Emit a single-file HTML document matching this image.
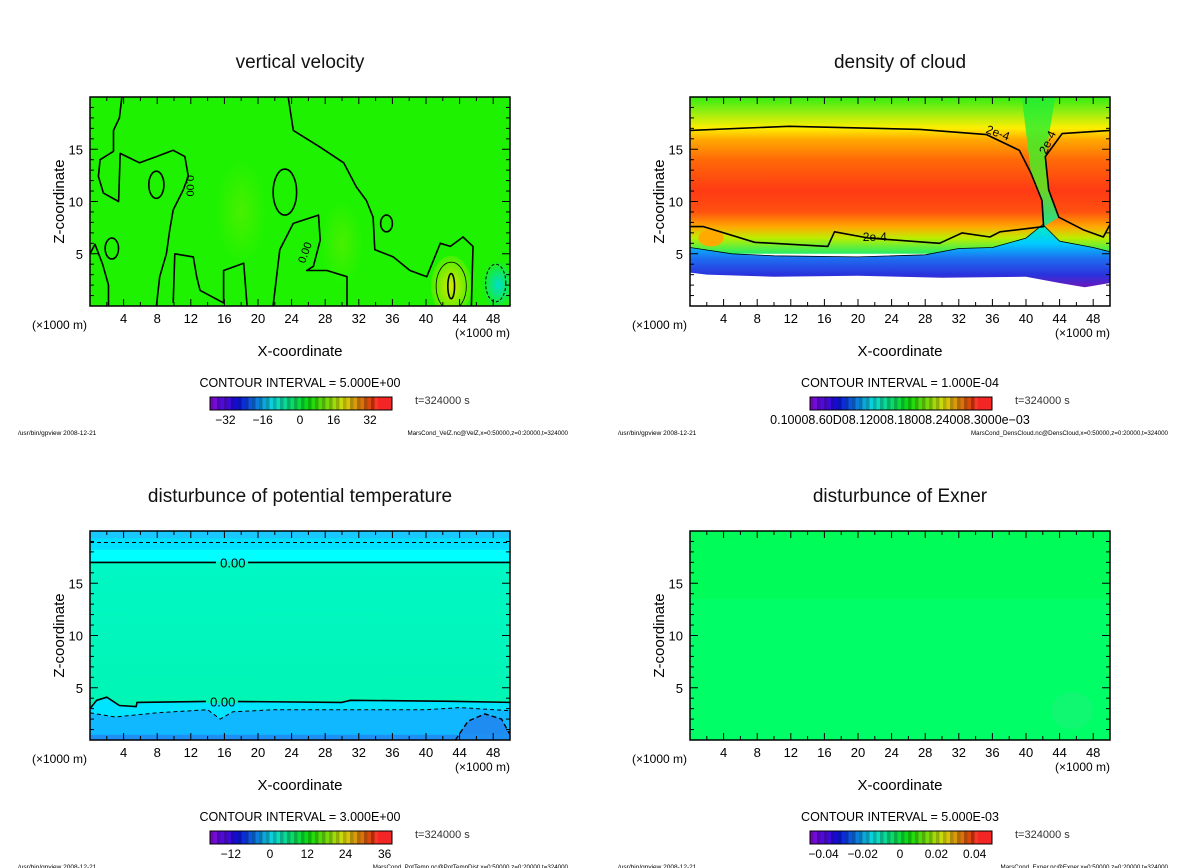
<!DOCTYPE html>
<html><head><meta charset="utf-8"><style>
body{margin:0;background:#fff}
svg{display:block;font-family:"Liberation Sans",sans-serif}
</style></head><body>
<svg id="s" width="1200" height="868" viewBox="0 0 1200 868" xmlns="http://www.w3.org/2000/svg">
<defs>
<linearGradient id="gCloud" x1="0" y1="0" x2="0" y2="1">
<stop offset="0" stop-color="#33ee11"/><stop offset="0.1" stop-color="#99ee11"/><stop offset="0.2" stop-color="#ffee00"/>
<stop offset="0.27" stop-color="#ffaa00"/><stop offset="0.4" stop-color="#ff6a08"/><stop offset="0.6" stop-color="#ff3a14"/>
<stop offset="0.73" stop-color="#ff5010"/><stop offset="0.83" stop-color="#ffaa00"/><stop offset="0.9" stop-color="#bbee00"/><stop offset="1" stop-color="#22ee66"/>
</linearGradient>
<linearGradient id="gBand" x1="0" y1="0" x2="0" y2="1">
<stop offset="0" stop-color="#00eebb"/><stop offset="0.3" stop-color="#00ccff"/><stop offset="0.55" stop-color="#1e6cf0"/><stop offset="0.8" stop-color="#2a33dd"/><stop offset="1" stop-color="#6a18bb"/>
</linearGradient>
<linearGradient id="gPlume" x1="0" y1="0" x2="0" y2="1">
<stop offset="0" stop-color="#22ee33"/><stop offset="0.7" stop-color="#55ee22"/><stop offset="1" stop-color="#00eeaa"/>
</linearGradient>
<linearGradient id="gTheta" x1="0" y1="0" x2="0" y2="1">
<stop offset="0" stop-color="#00f8c8"/><stop offset="1" stop-color="#00f5b0"/>
</linearGradient>
<radialGradient id="gYel"><stop offset="0" stop-color="#d8e800"/><stop offset="1" stop-color="#44f000"/></radialGradient>
<radialGradient id="gCyan"><stop offset="0" stop-color="#00ddcc"/><stop offset="1" stop-color="#1ef200"/></radialGradient>
<radialGradient id="gSoft"><stop offset="0" stop-color="#48f000"/><stop offset="1" stop-color="#1ef200"/></radialGradient>
</defs>
<g id="root"></g>
</svg>
<script>
// ---- data (x in km, z in km) ----
const xTicks=[4,8,12,16,20,24,28,32,36,40,44,48];
const zTicks=[5,10,15];
const titles=["vertical velocity","density of cloud","disturbunce of potential temperature","disturbunce of Exner"];
const intervals=["5.000E+00","1.000E-04","3.000E+00","5.000E-03"];
const files=["MarsCond_VelZ.nc@VelZ,x=0:50000,z=0:20000,t=324000","MarsCond_DensCloud.nc@DensCloud,x=0:50000,z=0:20000,t=324000","MarsCond_PotTemp.nc@PotTempDist,x=0:50000,z=0:20000,t=324000","MarsCond_Exner.nc@Exner,x=0:50000,z=0:20000,t=324000"];
const cbLabels=[["-32","-16","0","16","32"],["0.10008.60D08.12008.18008.24008.3000e−03"],["-12","0","12","24","36"],["-0.04","-0.02","0","0.02","0.04"]];
const cbLabelPos=[[-0.82,-0.41,0,0.37,0.77],[0],[-0.76,-0.33,0.08,0.50,0.93],[-0.84,-0.41,0,0.40,0.82]];
// vertical velocity zero contours
const wLineA=[[3.8,20],[3.5,18],[2.8,16.8],[2.8,14.8],[1.2,14],[1.0,12.4],[1.6,10.8],[3.4,10],[3.6,14.6],[5.9,13.7],[7.9,14.3],[9.9,14.9],[11.3,14.3],[11.7,12.4],[11.1,11.1],[9.9,9.2],[9.5,7.3],[9.1,5],[8.3,2.8],[7.9,0]];
const wLineB=[[23.6,20],[24.2,16.8],[27.4,15.2],[30.2,13.7],[31.7,11.4],[32.9,10.1],[33.7,8.5],[33.9,5.4],[36.1,4.7],[38.1,3.4],[40.1,2.8],[41.7,6],[42.9,5.7],[44.4,6.6],[45.6,5.7],[45.4,0]];
const wLineG=[[9.9,0.3],[10.1,5],[12.3,4.7],[12.7,2.8],[13.1,1.5],[15.9,0.3],[15.9,3.4],[18.3,4.1],[18.7,0]];
const wLineH=[[21.8,0],[22.6,5.4],[24.2,7.9],[27.2,8.7],[27.4,6.3],[26.6,3.8],[25.8,3.4],[28.2,3.4],[30.6,2.8],[30.6,0]];
const wLineI=[[0,5],[0.6,5.9],[1.5,4],[2.2,2],[2.2,0]];
const wLoops=[[23.2,10.9,1.4,2.2],[7.9,11.6,0.9,1.3],[2.6,5.5,0.8,1.0],[35.3,7.9,0.7,0.8],[43,1.9,0.4,1.2]];
// cloud density contours (2e-4)
const cTop=[[0,16.8],[11.8,17.2],[27.4,16.9],[35.3,16.4],[39.2,14.9],[40.6,12.7],[41.9,10.1],[42.1,7.6],[36.9,7.1],[35.7,6.6],[32.4,7],[29.7,6],[21.3,6.5],[17.2,7.1],[16.4,5.7],[7.7,6.1],[1.6,7.6],[0,7.6]];
const cRight=[[50,16.8],[44.3,16.5],[42.3,14.3],[42.7,11.1],[43.9,8.5],[46.8,7.3],[49.2,6.6],[50,7.8]];
const cBandTop=[[0,5.6],[5,5],[10,4.8],[20,4.7],[28,4.9],[32,5.5],[36,5.6],[40,6.5],[42,7.8],[44,6.2],[48,5.6],[50,5.2]];
const cBandBot=[[50,2.2],[47,1.8],[44,2.2],[40,2.8],[30,2.7],[20,2.9],[10,2.8],[2,3],[0,3.2]];
// potential temperature
const tZeroTop=17.0, tDashTop=18.9;
const tZeroLow=[[0,3],[0.8,3.8],[2,4.1],[3.5,3.3],[5.5,3.2],[5.6,3.6],[15,3.7],[30,3.6],[31,3.8],[43,3.7],[50,3.6]];
const tDashLow=[[0,2.6],[3,2.2],[8,2.6],[14,2.9],[15.5,2],[17,2.7],[22,2.9],[30,2.9],[40,2.9],[44,3.1],[50,2.8]];
const tDashDeep=[[43.5,0],[45,1.8],[47,2.5],[49,2],[50,0.5]];
</script>
<script>
const svg=document.getElementById('root');
const NS="http://www.w3.org/2000/svg";
const PW=420,PH=209;
const origins=[[90,97],[690,97],[90,531],[690,531]];
let cur=null;
function el(tag,attrs,parent){const e=document.createElementNS(NS,tag);for(const k in attrs)e.setAttribute(k,attrs[k]);(parent||cur||svg).appendChild(e);return e;}
function txt(s,attrs,parent){const e=el('text',attrs,parent);e.textContent=s;return e;}
function sx(p,x){return origins[p][0]+x/50*PW;}
function sz(p,z){return origins[p][1]+PH-z/20*PH;}
function pts(p,arr){return arr.map(d=>sx(p,d[0]).toFixed(1)+','+sz(p,d[1]).toFixed(1)).join(' ');}
function line(p,arr,name,dash,w){const e=el('polyline',{points:pts(p,arr),fill:'none',stroke:'#000','stroke-width':w||1.6,'stroke-dasharray':dash||'none','stroke-linejoin':'round'});

return e;}
function ell(p,d,name,fill,w){const e=el('ellipse',{cx:sx(p,d[0]),cy:sz(p,d[1]),rx:d[2]/50*PW,ry:d[3]/20*PH,fill:fill||'none',stroke:fill?'none':'#000','stroke-width':w||1.6});

return e;}

for(let p=0;p<4;p++){
 cur=null;
 const [ox,oy]=origins[p]; const cx=ox+210;
 const g=el('g',{},svg);
 
 
 const t=txt(titles[p],{x:cx,y:oy-29,'text-anchor':'middle','font-size':19,fill:'#111'},g);
 
 
 const clip=el('clipPath',{id:'c'+p},g); el('rect',{x:ox,y:oy,width:PW,height:PH},clip);
 const f=el('g',{'clip-path':'url(#c'+p+')'},g);
 
 
 cur=f;
 if(p===0){
  el('rect',{x:ox,y:oy,width:PW,height:PH,fill:'#1ef200'},f);
  ell(p,[18,9,3,5],'pos-region','url(#gSoft)');ell(p,[30,6,2.5,4],'pos-region','url(#gSoft)');
  ell(p,[43,1.9,2.4,2.9],'yellow-blob','url(#gYel)');
  ell(p,[48.6,2,2,2.4],'cyan-blob','url(#gCyan)');
  ell(p,[43,1.9,1.8,2.3],'contour-pos',null,0.8);
  line(p,wLineA,'contour-a');line(p,wLineB,'contour-b');line(p,wLineG,'contour-g');line(p,wLineH,'contour-h');line(p,wLineI,'contour-i');
  wLoops.forEach(d=>ell(p,d,'contour-loop'));
  ell(p,[48.3,2.2,1.2,1.8],'contour-neg',null,1.0).setAttribute('stroke-dasharray','3,2');
  txt('0.00',{x:sx(p,11.5),y:sz(p,11.5),transform:`rotate(90 ${sx(p,11.5)} ${sz(p,11.5)})`,'font-size':11,'text-anchor':'middle'},f);
  txt('0.00',{x:sx(p,26),y:sz(p,5),transform:`rotate(-70 ${sx(p,26)} ${sz(p,5)})`,'font-size':11,'text-anchor':'middle'},f);
 } else if(p===1){
  el('rect',{x:ox,y:oy,width:PW,height:sz(p,5)-oy,fill:'url(#gCloud)'},f);
  el('polygon',{points:pts(p,[[39.5,20],[40.6,12.7],[41.9,10.1],[42.1,7.6],[43.9,8.5],[42.7,11.1],[42.3,14.3],[43.5,20]]),fill:'url(#gPlume)',opacity:0.85},f);
  el('polygon',{points:pts(p,cBandTop.concat(cBandBot)),fill:'url(#gBand)'},f);
  ell(p,[2.5,6.5,1.5,0.8],'orange-blob','#ffaa00');
  line(p,cTop,'contour-2e-4');line(p,cRight,'contour-2e-4-right');
  line(p,cBandTop,'contour-band',null,0.8);
  txt('2e-4',{x:sx(p,36.5),y:sz(p,16.2),'font-size':12,transform:`rotate(20 ${sx(p,36.5)} ${sz(p,16.2)})`,'text-anchor':'middle'},f);
  txt('2e-4',{x:sx(p,43),y:sz(p,15.5),'font-size':12,transform:`rotate(-65 ${sx(p,43)} ${sz(p,15.5)})`,'text-anchor':'middle'},f);
  txt('2e-4',{x:sx(p,22),y:sz(p,6.2),'font-size':12,'text-anchor':'middle'},f);
 } else if(p===2){
  el('rect',{x:ox,y:oy,width:PW,height:PH,fill:'url(#gTheta)'},f);
  el('rect',{x:ox,y:oy,width:PW,height:sz(p,17)-oy,fill:'#00ffff'},f);
  el('rect',{x:ox,y:oy,width:PW,height:sz(p,18.2)-oy,fill:'#00e0ff'},f);
  el('rect',{x:ox,y:oy,width:PW,height:sz(p,19.3)-oy,fill:'#18c8ff'},f);
  el('polygon',{points:pts(p,tZeroLow.concat([[50,0],[0,0]])),fill:'#00e4ff'},f);
  el('polygon',{points:pts(p,tDashLow.concat([[50,0],[0,0]])),fill:'#10b8ff'},f);
  el('polygon',{points:pts(p,tDashDeep),fill:'#1e8cf0'},f);
  el('rect',{x:ox,y:sz(p,0.5),width:PW,height:6,fill:'#1e90f5'},f);
  line(p,[[0,tZeroTop],[50,tZeroTop]],'contour-zero-top');
  line(p,[[0,tDashTop],[50,tDashTop]],'contour-neg-top','4,3',1);
  line(p,tZeroLow,'contour-zero-low');
  line(p,tDashLow,'contour-neg-low','4,3',1);
  line(p,tDashDeep,'contour-neg-deep','5,3',1.4);
  el('rect',{x:sx(p,15),y:sz(p,tZeroTop)-1,width:32,height:4,fill:'#00f8c8'},f);
  txt('0.00',{x:sx(p,17),y:sz(p,tZeroTop)+5,'font-size':13,'text-anchor':'middle'},f);
  el('rect',{x:sx(p,13.8),y:sz(p,3.7)-1,width:32,height:3,fill:'#00f5b4'},f);
  txt('0.00',{x:sx(p,15.8),y:sz(p,3.7)+5,'font-size':13,'text-anchor':'middle'},f);
 } else {
  el('rect',{x:ox,y:oy,width:PW,height:PH,fill:'#00fe66'},f);
  el('rect',{x:ox,y:oy,width:PW,height:sz(p,13.5)-oy,fill:'#00fc58'},f);
  ell(p,[45.5,2.8,2.5,1.8],'exner-blob','#10f872');
 }
 cur=g;
 // frame & ticks
 const fr=el('rect',{x:ox,y:oy,width:PW,height:PH,fill:'none',stroke:'#000','stroke-width':1.5},g);
 
 
 for(let x=2;x<50;x+=2){const L=x%4===0?7:4;
  el('line',{x1:sx(p,x),x2:sx(p,x),y1:oy+PH,y2:oy+PH-L,stroke:'#000'},g);
  el('line',{x1:sx(p,x),x2:sx(p,x),y1:oy,y2:oy+L,stroke:'#000'},g);}
 for(let z=1;z<20;z++){const L=z%5===0?8:4;
  el('line',{x1:ox,x2:ox+L,y1:sz(p,z),y2:sz(p,z),stroke:'#000'},g);
  el('line',{x1:ox+PW,x2:ox+PW-L,y1:sz(p,z),y2:sz(p,z),stroke:'#000'},g);}
 xTicks.forEach(x=>{const e=txt(String(x),{x:sx(p,x),y:oy+PH+17,'text-anchor':'middle','font-size':13},g);
  
  });
 zTicks.forEach(z=>{const e=txt(String(z),{x:ox-7,y:sz(p,z)+5,'text-anchor':'end','font-size':13},g);
  
  });
 txt('(×1000 m)',{x:ox-58,y:oy+PH+23,'font-size':12},g);
 txt('(×1000 m)',{x:ox+365,y:oy+PH+31,'font-size':12},g);
 const xl=txt('X-coordinate',{x:cx,y:oy+PH+50,'text-anchor':'middle','font-size':15},g);
 
 
 const zl=txt('Z-coordinate',{x:0,y:0,transform:`translate(${ox-26},${oy+PH/2}) rotate(-90)`,'text-anchor':'middle','font-size':15},g);
 
 
 txt('CONTOUR INTERVAL = '+intervals[p],{x:cx,y:oy+290,'text-anchor':'middle','font-size':12.5},g);
 // colorbar
 const cb=el('g',{},g);
 
 
 const cbx=ox+120,cby=oy+300,cbw=182,n=52;
 for(let i=0;i<n;i++){const hue=i<4?275-i*5:Math.max(0,260-(i-4)*260/44);
  const lig=i>=n-5?55:(i%2?45:36);
  el('rect',{x:cbx+i*cbw/n,y:cby,width:cbw/n+0.3,height:13,fill:`hsl(${hue},90%,${lig}%)`},cb);}
 el('rect',{x:cbx,y:cby,width:cbw,height:13,fill:'none',stroke:'#000'},cb);
 cbLabels[p].forEach((s,i)=>txt(s.replace('-','−'),{x:cx+cbLabelPos[p][i]*91,y:oy+327,'text-anchor':'middle','font-size':p===1?12.5:12},cb));
 txt('t=324000 s',{x:ox+325,y:oy+307,'font-size':11,fill:'#333'},g);
 txt('/usr/bin/gpview  2008-12-21',{x:ox-72,y:oy+338,'font-size':6.5},g);
 txt(files[p],{x:ox+478,y:oy+338,'text-anchor':'end','font-size':6.2},g);
}
</script>
</body></html>
